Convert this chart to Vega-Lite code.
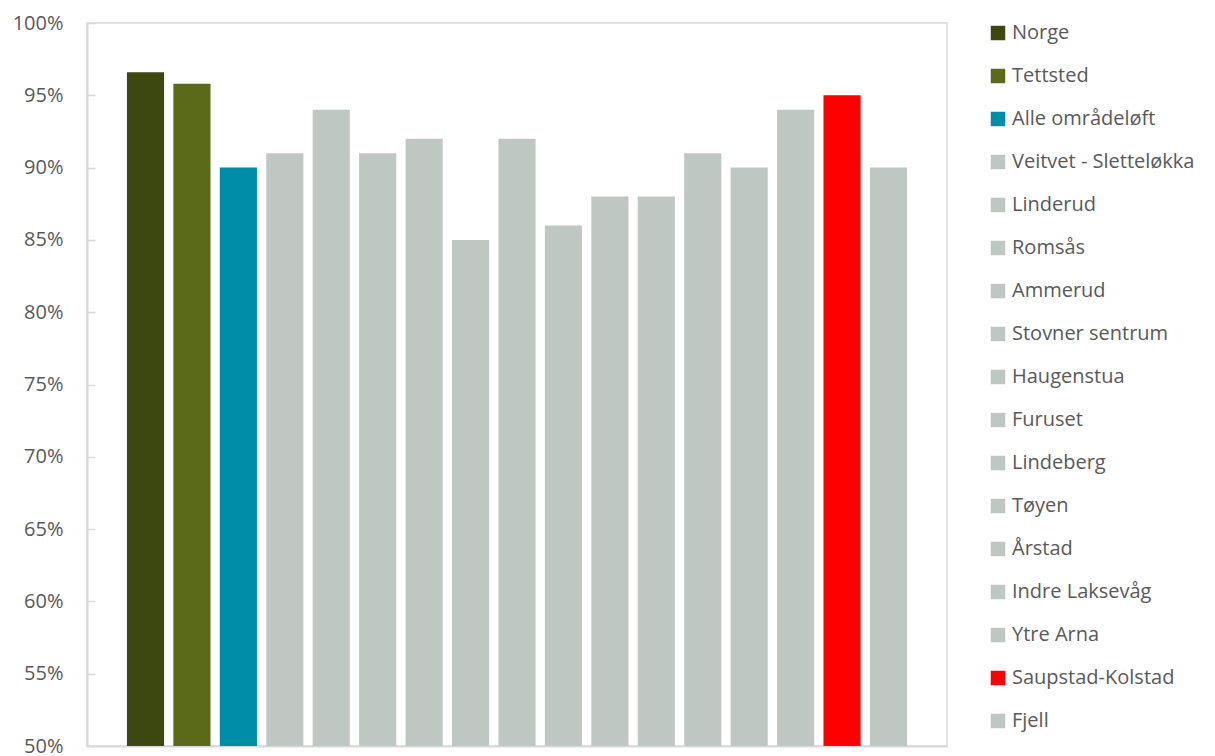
{
  "$schema": "https://vega.github.io/schema/vega-lite/v6.json",
  "autosize": "none",
  "width": 860,
  "height": 723,
  "padding": {"left": 87, "top": 23, "right": 268, "bottom": 10},
  "background": "white",
  "config": {
    "font": "Open Sans",
    "view": {"stroke": "#D9D9D9", "strokeWidth": 1.5}
  },
  "data": {
    "values": [
      {"omrade": "Norge", "andel": 0.966},
      {"omrade": "Tettsted", "andel": 0.958},
      {"omrade": "Alle områdeløft", "andel": 0.90},
      {"omrade": " Veitvet - Sletteløkka", "andel": 0.91},
      {"omrade": "Linderud", "andel": 0.94},
      {"omrade": "Romsås", "andel": 0.91},
      {"omrade": "Ammerud", "andel": 0.92},
      {"omrade": " Stovner sentrum", "andel": 0.85},
      {"omrade": "Haugenstua", "andel": 0.92},
      {"omrade": "Furuset", "andel": 0.86},
      {"omrade": "Lindeberg", "andel": 0.88},
      {"omrade": "Tøyen", "andel": 0.88},
      {"omrade": "Årstad", "andel": 0.91},
      {"omrade": "Indre Laksevåg", "andel": 0.90},
      {"omrade": "Ytre Arna", "andel": 0.94},
      {"omrade": "Saupstad-Kolstad", "andel": 0.95},
      {"omrade": "Fjell", "andel": 0.90}
    ]
  },
  "mark": {"type": "bar", "clip": true},
  "encoding": {
    "x": {
      "field": "omrade",
      "type": "nominal",
      "sort": null,
      "scale": {"paddingInner": 0.2, "paddingOuter": 0.86},
      "axis": {
        "title": null,
        "labels": false,
        "ticks": false,
        "domainColor": "#D9D9D9",
        "domainWidth": 2
      }
    },
    "y": {
      "field": "andel",
      "type": "quantitative",
      "scale": {"domain": [0.5, 1], "zero": false, "nice": false},
      "axis": {
        "title": null,
        "format": ".0%",
        "values": [0.5, 0.55, 0.6, 0.65, 0.7, 0.75, 0.8, 0.85, 0.9, 0.95, 1.0],
        "grid": false,
        "domainColor": "#D9D9D9",
        "domainWidth": 2,
        "tickColor": "#D9D9D9",
        "tickWidth": 1.5,
        "tickSize": -8,
        "labelPadding": 32,
        "labelFontSize": 20,
        "labelColor": "#595959"
      }
    },
    "color": {
      "field": "omrade",
      "type": "nominal",
      "sort": null,
      "scale": {
        "domain": ["Norge", "Tettsted", "Alle områdeløft", " Veitvet - Sletteløkka", "Linderud", "Romsås", "Ammerud", " Stovner sentrum", "Haugenstua", "Furuset", "Lindeberg", "Tøyen", "Årstad", "Indre Laksevåg", "Ytre Arna", "Saupstad-Kolstad", "Fjell"],
        "range": ["#3D4710", "#5A6A19", "#008DA8", "#BFC7C3", "#BFC7C3", "#BFC7C3", "#BFC7C3", "#BFC7C3", "#BFC7C3", "#BFC7C3", "#BFC7C3", "#BFC7C3", "#BFC7C3", "#BFC7C3", "#BFC7C3", "#FF0000", "#BFC7C3"]
      },
      "legend": {
        "title": null,
        "orient": "right",
        "offset": 41,
        "symbolType": "square",
        "symbolSize": 210,
        "symbolStrokeWidth": 0,
        "labelFontSize": 20,
        "labelColor": "#595959",
        "labelOffset": 4,
        "labelLimit": 0,
        "rowPadding": 23,
        "padding": 0
      }
    }
  }
}
